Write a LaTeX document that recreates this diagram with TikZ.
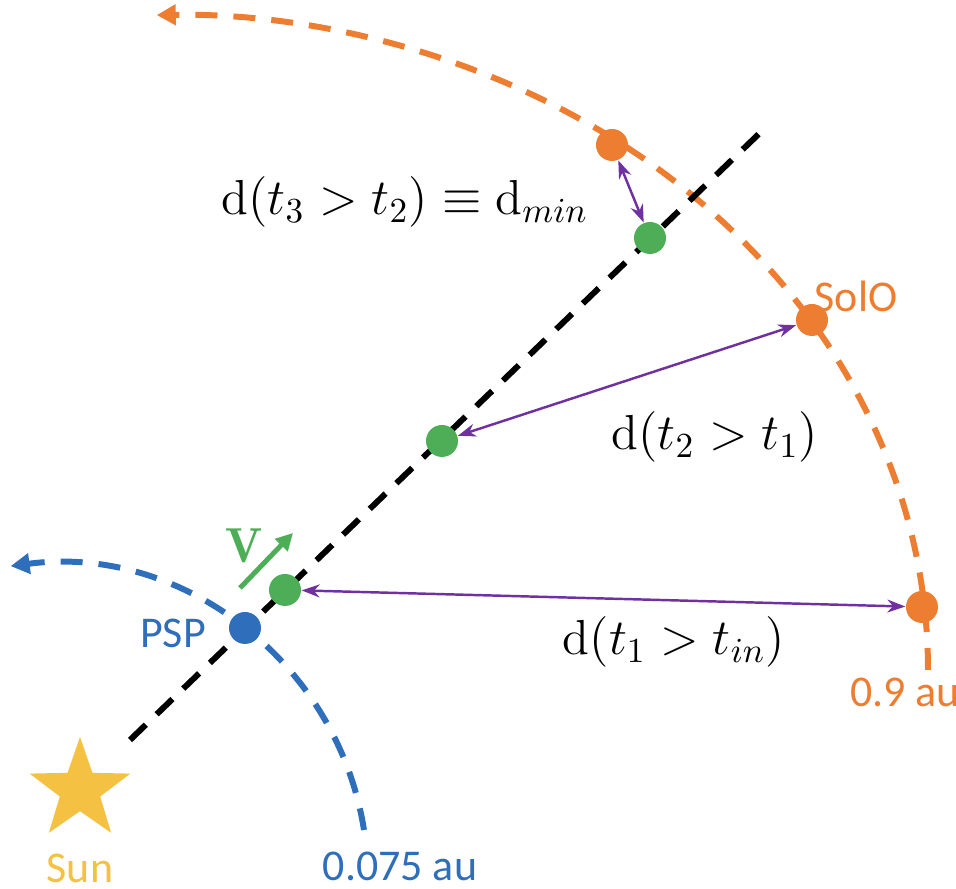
\documentclass[tikz,border=0pt]{standalone}
\usepackage{fontspec}
\newfontfamily\tagfont{Carlito}
\definecolor{soloorange}{HTML}{ED7D31}
\definecolor{pspblue}{HTML}{2F6EBA}
\definecolor{streamgreen}{HTML}{4DAE57}
\definecolor{gappurple}{HTML}{7030A0}
\definecolor{sunyellow}{HTML}{F5C143}
\usetikzlibrary{arrows.meta,shapes.geometric}
\tikzset{
    soloorbit/.style={
        -{Triangle[length=1.9mm,width=2.0mm]},
        draw=soloorange,
        line width=1.7pt,
        dash pattern=on 2.2mm off 1.6mm
    },
    psporbit/.style={
        -{Triangle[length=1.9mm,width=2.0mm]},
        draw=pspblue,
        line width=1.7pt,
        dash pattern=on 2.2mm off 1.6mm
    },
    radialline/.style={
        draw=black,
        line width=1.7pt,
        dash pattern=on 2.2mm off 1.5mm
    },
    craftdot/.style={
        circle,
        inner sep=0pt,
        minimum size=3.2mm
    },
    solodot/.style={craftdot,fill=soloorange},
    pspdot/.style={craftdot,fill=pspblue},
    plasmadot/.style={craftdot,fill=streamgreen},
    gaparrow/.style={
        {Stealth[length=1.8mm,width=1.3mm]}-{Stealth[length=1.8mm,width=1.3mm]},
        draw=gappurple,
        line width=0.7pt
    },
    speedarrow/.style={
        -{Triangle[length=1.7mm,width=1.7mm]},
        draw=streamgreen,
        line width=1.4pt
    },
    sunstar/.style={
        star,
        star points=5,
        star point ratio=2.5,
        fill=sunyellow,
        inner sep=0pt,
        minimum size=10.6mm
    },
    tagtext/.style={
        font=\tagfont\fontsize{12.5}{14}\selectfont,
        inner sep=1pt
    },
    distancetext/.style={
        font=\fontsize{14}{16}\selectfont,
        inner sep=1pt
    }
}

\begin{document}
\begin{tikzpicture}[x=0.1mm,y=0.1mm]
    \useasboundingbox (0,0) rectangle (956,889);

    % orbits and the radial line
    \draw[soloorbit] (928,219) arc[start angle=0,end angle=91,
        x radius=758,y radius=655];
    \draw[psporbit] (364,59) arc[start angle=9,end angle=97.5,radius=316];
    \coordinate (raystart) at (130,149);
    \coordinate (rayend) at (765,761);
    \draw[radialline] (raystart) -- (rayend);

    \node[sunstar] (sun) at (80,99) {};

    % spacecraft and plasma parcels
    \node[pspdot] (psp) at (245,261) {};
    \node[plasmadot] (parcelA) at (285,299) {};
    \node[plasmadot] (parcelB) at (442,448) {};
    \node[plasmadot] (parcelC) at (650,651) {};
    \node[solodot] (soloA) at (922,282) {};
    \node[solodot] (soloB) at (812,569) {};
    \node[solodot] (soloC) at (612,744) {};

    \draw[gaparrow] (parcelA) -- (soloA);
    \draw[gaparrow] (parcelB) -- (soloB);
    \draw[gaparrow] (parcelC) -- (soloC);

    \coordinate (speedtail) at (240,301);
    \coordinate (speedhead) at (293,356);
    \draw[speedarrow] (speedtail) -- (speedhead);

    % labels
    \node[text=streamgreen,font=\fontsize{14}{16}\selectfont] (speedtag)
        at (244,343) {$\mathbf{V}$};
    \node[tagtext,text=pspblue] (psptag) at (173,256) {PSP};
    \node[tagtext,text=sunyellow] (suntag) at (80,21) {Sun};
    \node[tagtext,text=pspblue] (pspradius) at (400,23) {0.075 au};
    \node[tagtext,text=soloorange] (soloradius) at (905,197) {0.9 au};
    \node[tagtext,text=soloorange] (solotag) at (856,593) {SolO};
    \node[distancetext] (gapC) at (405,687)
        {$\mathrm{d}(t_3>t_2)\equiv\mathrm{d}_{min}$};
    \node[distancetext] (gapB) at (715,452)
        {$\mathrm{d}(t_2>t_1)$};
    \node[distancetext] (gapA) at (674,247)
        {$\mathrm{d}(t_1>t_{in})$};
\end{tikzpicture}
\end{document}
